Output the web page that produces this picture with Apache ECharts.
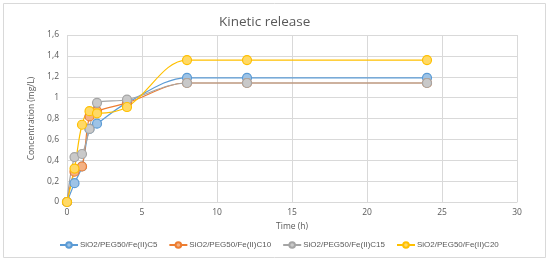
<!DOCTYPE html>
<html>
<head>
<meta charset="utf-8">
<script src="https://cdn.jsdelivr.net/npm/echarts@6/dist/echarts.min.js"></script>
<style>
  html, body { margin: 0; padding: 0; background: #fff; }
  #chart { width: 550px; height: 263px; }
</style>
</head>
<body>
<div id="chart"></div>
<script>
var times = [0, 0.5, 1, 1.5, 2, 4, 8, 12, 24]
var seriesNames = ['SiO2/PEG50/Fe(II)C5', 'SiO2/PEG50/Fe(II)C10', 'SiO2/PEG50/Fe(II)C15', 'SiO2/PEG50/Fe(II)C20']
var c5 = [0, 0.18, 0.34, 0.70, 0.75, 0.95, 1.19, 1.19, 1.19]
var c10 = [0, 0.29, 0.34, 0.82, 0.87, 0.95, 1.14, 1.14, 1.14]
var c15 = [0, 0.43, 0.46, 0.70, 0.95, 0.98, 1.14, 1.14, 1.14]
var c20 = [0, 0.32, 0.74, 0.87, 0.85, 0.91, 1.36, 1.36, 1.36]

var lineColors = ['#5B9BD5', '#ED7D31', '#A5A5A5', '#FFC000']
var fillColors = ['#9DC3E6', '#F4B183', '#C9C9C9', '#FFD966']

function pairs(vals) {
  return times.map(function (t, i) { return [t, vals[i]] })
}

function makeSeries(name, vals, i) {
  return {
    name: name,
    type: 'line',
    data: pairs(vals),
    smooth: 0.35,
    symbol: 'circle',
    symbolSize: 9,
    lineStyle: { color: lineColors[i], width: 1.2 },
    itemStyle: { color: fillColors[i], borderColor: lineColors[i], borderWidth: 1.2 }
  }
}

var myChart = echarts.init(document.getElementById('chart'))
myChart.setOption({
  animation: false,
  graphic: [{
    type: 'rect',
    shape: { x: 3.5, y: 3.5, width: 542, height: 254 },
    style: { fill: 'none', stroke: '#D9D9D9', lineWidth: 1 },
    silent: true
  }],
  title: {
    text: 'Kinetic release',
    left: 214,
    top: 10,
    textStyle: { color: '#595959', fontFamily: 'Open Sans', fontSize: 13.5, fontWeight: 'normal' }
  },
  legend: {
    bottom: 9,
    left: 54,
    itemGap: 11,
    itemWidth: 18,
    itemHeight: 7,
    textStyle: { color: '#595959', fontFamily: 'Liberation Sans', fontSize: 8, padding: [0, 0, 0, -3] },
    data: seriesNames
  },
  grid: { left: 67, right: 33, top: 35, bottom: 61 },
  xAxis: {
    type: 'value',
    min: 0, max: 30, interval: 5,
    name: 'Time (h)',
    nameLocation: 'middle',
    nameGap: 16,
    nameTextStyle: { color: '#595959', fontFamily: 'Open Sans', fontSize: 8.5 },
    axisLine: { show: true, lineStyle: { color: '#D9D9D9' } },
    axisTick: { show: false },
    axisLabel: { color: '#595959', fontFamily: 'Open Sans', fontSize: 8.5, margin: 6 },
    splitLine: { show: true, lineStyle: { color: '#D9D9D9' } }
  },
  yAxis: {
    type: 'value',
    min: 0, max: 1.6, interval: 0.2,
    name: 'Concentration (mg/L)',
    nameLocation: 'middle',
    nameGap: 30,
    nameTextStyle: { color: '#595959', fontFamily: 'Open Sans', fontSize: 8.5 },
    axisLine: { show: false },
    axisTick: { show: false },
    axisLabel: {
      color: '#595959', fontFamily: 'Open Sans', fontSize: 8.5, margin: 8,
      formatter: function (v) { return String(+v.toFixed(1)).replace('.', ',') }
    },
    splitLine: { show: true, lineStyle: { color: '#D9D9D9' } }
  },
  series: [
    makeSeries(seriesNames[0], c5, 0),
    makeSeries(seriesNames[1], c10, 1),
    makeSeries(seriesNames[2], c15, 2),
    makeSeries(seriesNames[3], c20, 3)
  ]
})
</script>
</body>
</html>
